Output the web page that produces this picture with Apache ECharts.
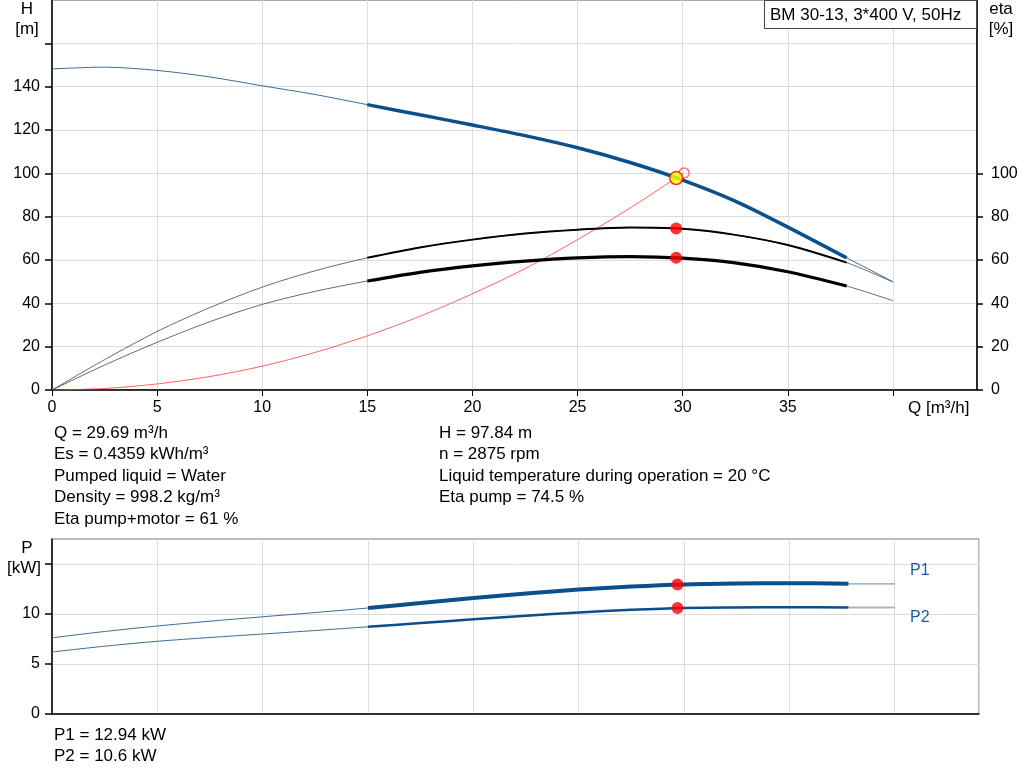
<!DOCTYPE html>
<html><head><meta charset="utf-8">
<script src="https://cdn.jsdelivr.net/npm/echarts@6/dist/echarts.min.js"></script>
<style>html,body{margin:0;padding:0;background:#fff}#c{width:1024px;height:781px}</style>
</head><body><div id="c"></div>
<script>
// ---- data ----
const Q        = [0, 2.5, 5, 7.5, 10, 12.5, 15, 17.5, 20, 22.5, 25, 27.5, 30, 32.5, 35, 37.8, 40];
const H        = [148.2, 149, 147.5, 144.5, 140.4, 136.4, 131.7, 127, 122.3, 117.4, 111.8, 105, 96.9, 87.2, 75.2, 61, 50];
const etaPump  = [0, 14, 27, 38, 47.5, 55, 61, 65.8, 69.4, 72.2, 74, 75, 74.4, 71.6, 66.9, 58.8, 49.8];
const etaTotal = [0, 11.5, 22, 31.5, 39.5, 45.5, 50.3, 54.3, 57.3, 59.5, 61, 61.6, 60.9, 58.7, 54.6, 48, 41.2];
const P1       = [7.62, 8.25, 8.8, 9.28, 9.72, 10.15, 10.6, 11.1, 11.6, 12.05, 12.45, 12.75, 12.96, 13.05, 13.08, 13.03, 13.03];
const P2       = [6.2, 6.78, 7.27, 7.65, 8.0, 8.35, 8.72, 9.1, 9.47, 9.82, 10.15, 10.42, 10.61, 10.66, 10.68, 10.65, 10.65];
const sysQ     = [0, 2.5, 5, 7.5, 10, 12.5, 15, 17.5, 20, 22.5, 25, 27.5, 29.69, 30.07];
const sysH     = [0, 0.7, 2.8, 6.2, 11, 17.3, 25, 34, 44.4, 56, 69.4, 84, 97.84, 100.2];
const workRange = [15, 37.8];
const duty = {Q: 29.69, H: 97.84, etaPump: 74.5, etaTotal: 61, P1: 12.94, P2: 10.6};
const xTicks = [0, 5, 10, 15, 20, 25, 30, 35];
const hTicks = [0, 20, 40, 60, 80, 100, 120, 140];
const etaTicks = [0, 20, 40, 60, 80, 100];
const pTicks = [0, 5, 10];
const infoLeft = ['Q = 29.69 m³/h', 'Es = 0.4359 kWh/m³', 'Pumped liquid = Water', 'Density = 998.2 kg/m³', 'Eta pump+motor = 61 %'];
const infoRight = ['H = 97.84 m', 'n = 2875 rpm', 'Liquid temperature during operation = 20 °C', 'Eta pump = 74.5 %'];
const infoBottom = ['P1 = 12.94 kW', 'P2 = 10.6 kW'];
const title = 'BM 30-13, 3*400 V, 50Hz';

// ---- helpers ----
const pairs = (xs, ys) => xs.map((x, i) => [x, ys[i]]);
const work = (xs, ys) => pairs(xs, ys).filter(p => p[0] >= workRange[0] && p[0] <= workRange[1]);
const FONT = 'Liberation Sans, Arial, sans-serif';
const grid = '#dcdcdc';

const chart = echarts.init(document.getElementById('c'), null, {renderer: 'canvas'});

function line(name, data, xi, yi, color, width, z) {
  return {name, type: 'line', xAxisIndex: xi, yAxisIndex: yi, data, smooth: 0.3, symbol: 'none',
    lineStyle: {color, width}, z: z || 2, silent: true, animation: false};
}
function dot(data, xi, yi, size, color, border, z) {
  return {type: 'scatter', xAxisIndex: xi, yAxisIndex: yi, data, symbolSize: size,
    itemStyle: {color, borderColor: border || color, borderWidth: border ? 1.5 : 0}, z: z || 10, silent: true, animation: false};
}

const txt = (text, x, y, opts) => Object.assign({type: 'text', x, y, z: 100, style: Object.assign({text, font: '17px ' + FONT, fill: '#000', verticalAlign: 'middle'}, opts || {})});

const graphics = [];
infoLeft.forEach((t, i) => graphics.push(txt(t, 54, 433 + i * 21.5)));
infoRight.forEach((t, i) => graphics.push(txt(t, 439, 433 + i * 21.5)));
infoBottom.forEach((t, i) => graphics.push(txt(t, 54, 735 + i * 21.5)));
graphics.push(txt('H', 27, 9, {align: 'center'}));
graphics.push(txt('[m]', 27, 29, {align: 'center'}));
graphics.push(txt('eta', 1001, 9, {align: 'center'}));
graphics.push(txt('[%]', 1001, 29, {align: 'center'}));
graphics.push(txt('P', 27, 548, {align: 'center'}));
graphics.push(txt('[kW]', 24, 568, {align: 'center'}));
graphics.push(txt('Q [m³/h]', 908, 408));
graphics.push(txt('P1', 910, 571, {fill: '#1f5c9e', font: '16px ' + FONT}));
graphics.push(txt('P2', 910, 618, {fill: '#1f5c9e', font: '16px ' + FONT}));
graphics.push({type: 'rect', shape: {x: 764.5, y: 0.5, width: 212, height: 28}, z: 90,
  style: {fill: '#fff', stroke: '#444', lineWidth: 1}});
graphics.push(txt(title, 770, 15));

const xBase = {type: 'value', min: 0, max: 44, interval: 5,
  axisLine: {show: true, onZero: false, lineStyle: {color: '#000', width: 1.5}},
  splitLine: {show: true, lineStyle: {color: grid, width: 1}}};

const lab = m => ({fontSize: 16, fontFamily: FONT, color: '#000', margin: m});

const option = {
  animation: false,
  grid: [
    {left: 52, top: 0, width: 925, height: 390, show: true, borderColor: '#555', borderWidth: 1},
    {left: 52, top: 539, width: 927, height: 175, show: true, borderColor: '#777', borderWidth: 1}
  ],
  xAxis: [
    Object.assign({}, xBase, {gridIndex: 0,
      axisTick: {show: true, length: 6, customValues: [0,5,10,15,20,25,30,35,40], lineStyle: {color: '#000'}},
      axisLabel: Object.assign({customValues: xTicks}, lab(10))}),
    Object.assign({}, xBase, {gridIndex: 1, axisTick: {show: false}, axisLabel: {show: false}})
  ],
  yAxis: [
    {type: 'value', gridIndex: 0, min: 0, max: 180, interval: 20, position: 'left',
      axisLine: {show: true, lineStyle: {color: '#000', width: 1.5}},
      axisTick: {show: true, length: 7, customValues: [0,20,40,60,80,100,120,140,160], lineStyle: {color: '#000', width: 1.5}},
      axisLabel: Object.assign({customValues: hTicks}, lab(12)),
      splitLine: {show: true, lineStyle: {color: grid, width: 1}}},
    {type: 'value', gridIndex: 0, min: 0, max: 180, interval: 20, position: 'right',
      axisLine: {show: true, lineStyle: {color: '#000', width: 1.5}},
      axisTick: {show: true, length: 6, customValues: etaTicks, lineStyle: {color: '#000', width: 1.5}},
      axisLabel: Object.assign({customValues: etaTicks}, lab(14)),
      splitLine: {show: false}},
    {type: 'value', gridIndex: 1, min: 0, max: 17.5, interval: 5, position: 'left',
      axisLine: {show: true, lineStyle: {color: '#000', width: 1.5}},
      axisTick: {show: true, length: 7, customValues: [0,5,10,15], lineStyle: {color: '#000', width: 1.5}},
      axisLabel: Object.assign({customValues: pTicks}, lab(12)),
      splitLine: {show: true, lineStyle: {color: grid, width: 1}}}
  ],
  graphic: graphics,
  series: [
    line('system', pairs(sysQ, sysH), 0, 0, '#ff3b3b', 0.8, 3),
    dot([[sysQ[sysQ.length - 1], sysH[sysH.length - 1]]], 0, 0, 10, 'rgba(255,255,255,0)', '#ff5050', 6),
    line('etaPumpThin', pairs(Q, etaPump), 0, 1, '#444', 0.8, 2),
    line('etaTotalThin', pairs(Q, etaTotal), 0, 1, '#444', 0.8, 2),
    line('etaPump', work(Q, etaPump), 0, 1, '#000', 2, 4),
    line('etaTotal', work(Q, etaTotal), 0, 1, '#000', 3.2, 4),
    line('Hthin', pairs(Q, H), 0, 0, '#2a5a8a', 0.9, 3),
    line('H', work(Q, H), 0, 0, '#0b4f8c', 3.5, 5),
    dot([[duty.Q, duty.etaPump], [duty.Q, duty.etaTotal]], 0, 1, 12, '#ff0000'),
    dot([[duty.Q, duty.H]], 0, 0, 13, '#ffff00', '#ff0000', 11),
    line('P1thin', pairs(Q, P1), 1, 2, '#2a5a8a', 0.9, 2),
    line('P2thin', pairs(Q, P2), 1, 2, '#2a5a8a', 0.9, 2),
    line('P1thinEnd', pairs(Q, P1).filter(p => p[0] >= workRange[1]), 1, 2, '#a9b3c6', 1.5, 3),
    line('P2thinEnd', pairs(Q, P2).filter(p => p[0] >= workRange[1]), 1, 2, '#a9b3c6', 2, 3),
    line('P1', work(Q, P1), 1, 2, '#0b4f8c', 4, 4),
    line('P2', work(Q, P2), 1, 2, '#0b4f8c', 2.5, 4),
    dot([[duty.Q, duty.P1], [duty.Q, duty.P2]], 1, 2, 12, '#ff0000')
  ]
};
chart.setOption(option);
</script></body></html>
